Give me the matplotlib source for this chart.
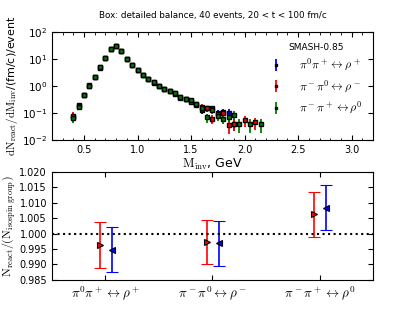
import numpy as np
import matplotlib
matplotlib.use("Agg")
import matplotlib.pyplot as plt
from matplotlib.ticker import MultipleLocator, LogLocator, NullLocator

plt.rcParams['mathtext.fontset'] = 'cm'
plt.rcParams['font.family'] = ['DejaVu Sans']

nan = np.nan
# ---- top panel data ----
m_inv = [0.40, 0.45, 0.50, 0.55, 0.60, 0.65, 0.70, 0.75, 0.80, 0.85, 0.90, 0.95,
         1.00, 1.05, 1.10, 1.15, 1.20, 1.25, 1.30, 1.35, 1.40, 1.45, 1.50, 1.55,
         1.60, 1.65, 1.70, 1.75, 1.80, 1.85, 1.90, 1.95, 2.00, 2.05, 2.10, 2.15]

rho_plus = [0.072, 0.20, 0.46, 1.00, 2.1, 4.8, 10.8, 23.5, 29.5, 19.6, 10.2, 6.0,
            3.85, 2.6, 1.8, 1.36, 1.0, 0.75, 0.67, 0.54, 0.39, 0.33, 0.29, 0.22,
            0.13, 0.15, 0.15, 0.10, 0.11, 0.105, 0.041, nan, nan, nan, nan, nan]
rho_plus_err = [0.027, 0.045, 0.068, 0.10, 0.145, 0.22, 0.33, 0.48, 0.54, 0.44, 0.32, 0.245,
                0.196, 0.16, 0.134, 0.117, 0.10, 0.087, 0.082, 0.073, 0.062, 0.057, 0.054, 0.047,
                0.036, 0.039, 0.039, 0.032, 0.033, 0.032, 0.020, nan, nan, nan, nan, nan]

rho_minus = [0.080, 0.18, 0.47, 1.10, 2.15, 5.0, 11.0, 24.5, 29.5, 19.8, 10.4, 6.1,
             3.9, 2.6, 1.8, 1.38, 1.0, 0.77, 0.66, 0.53, 0.37, 0.34, 0.25, 0.20,
             0.17, 0.15, 0.063, 0.09, 0.10, 0.036, 0.041, nan, 0.054, nan, 0.045, nan]
rho_minus_err = [0.028, 0.042, 0.069, 0.105, 0.147, 0.22, 0.33, 0.49, 0.54, 0.44, 0.32, 0.247,
                 0.197, 0.16, 0.134, 0.117, 0.10, 0.088, 0.081, 0.073, 0.061, 0.058, 0.050, 0.045,
                 0.041, 0.039, 0.025, 0.030, 0.032, 0.019, 0.020, nan, 0.023, nan, 0.021, nan]

rho_zero = [0.068, 0.17, 0.47, 1.02, 2.15, 4.9, 10.9, 24.0, 29.5, 19.8, 10.3, 6.1,
            3.9, 2.6, 1.8, 1.37, 1.0, 0.76, 0.67, 0.54, 0.38, 0.33, 0.30, 0.22,
            0.15, 0.069, 0.13, 0.08, 0.063, 0.073, 0.088, 0.039, nan, 0.039, nan, 0.039]
rho_zero_err = [0.026, 0.041, 0.069, 0.101, 0.147, 0.22, 0.33, 0.49, 0.54, 0.44, 0.32, 0.247,
                0.197, 0.16, 0.134, 0.117, 0.10, 0.087, 0.082, 0.073, 0.062, 0.057, 0.055, 0.047,
                0.039, 0.026, 0.036, 0.028, 0.025, 0.027, 0.030, 0.020, nan, 0.020, nan, 0.020]

labels = [r'$\pi^0\pi^+\leftrightarrow\rho^+$',
          r'$\pi^-\pi^0\leftrightarrow\rho^-$',
          r'$\pi^-\pi^+\leftrightarrow\rho^0$']
colors = ['blue', 'red', 'green']

# ---- bottom panel data ----
channel_idx = [0, 1, 2]
ratio_red = [0.9963, 0.9972, 1.0062]
ratio_red_err = [0.0073, 0.0072, 0.0072]
ratio_blue = [0.9948, 0.9969, 1.0084]
ratio_blue_err = [0.0073, 0.0073, 0.0073]

fig = plt.figure(figsize=(4.15, 3.12), dpi=100)
ax1 = fig.add_axes([0.125, 0.551, 0.774, 0.346])
ax2 = fig.add_axes([0.125, 0.103, 0.774, 0.346])

series = [(rho_plus, rho_plus_err), (rho_minus, rho_minus_err), (rho_zero, rho_zero_err)]
for (y, e), c, lab in zip(series, colors, labels):
    ax1.errorbar(m_inv, y, yerr=e, fmt='s', color=c, mfc=c, mec='k', ms=3,
                 mew=1.0, elinewidth=1.3, capsize=0, label=lab)

ax1.set_yscale('log')
ax1.set_xlim(0.2, 3.2)
ax1.set_ylim(1e-2, 1e2)
ax1.xaxis.set_major_locator(MultipleLocator(0.5))
ax1.xaxis.set_minor_locator(MultipleLocator(0.1))
ax1.yaxis.set_major_locator(LogLocator(base=10, numticks=10))
ax1.yaxis.set_minor_locator(NullLocator())
ax1.tick_params(which='both', direction='in', top=True, right=True)
ax1.tick_params(axis='y', labelsize=7.5)
ax1.tick_params(axis='x', labelsize=7)
ax1.tick_params(which='major', length=3.5)
ax1.tick_params(which='minor', length=1.8)
ax1.set_xlabel(r'$\mathrm{M_{inv}}$, GeV', fontsize=9, labelpad=1)
ax1.set_ylabel(r'$\mathrm{dN_{react}/dM_{inv}}$/(fm/c)/event', fontsize=8, labelpad=1)
ax1.set_title('Box: detailed balance, 40 events, 20 < t < 100 fm/c', fontsize=6.3, pad=10)
leg = ax1.legend(title='SMASH-0.85', loc='upper right', frameon=False, fontsize=8.5,
                 title_fontsize=6.5, labelspacing=0.45, handlelength=1.0,
                 borderaxespad=0.5, handletextpad=1.4, numpoints=1, markerscale=0.6)

ax2.errorbar([i - 0.05 for i in channel_idx], ratio_red, yerr=ratio_red_err, fmt='>',
             color='red', mfc='red', mec='k', ms=5, mew=0.8, ecolor='red',
             elinewidth=1.2, capsize=4, capthick=1.2)
ax2.errorbar([i + 0.06 for i in channel_idx], ratio_blue, yerr=ratio_blue_err, fmt='<',
             color='blue', mfc='blue', mec='k', ms=5, mew=0.8, ecolor='blue',
             elinewidth=1.2, capsize=4, capthick=1.2)
ax2.axhline(1.0, color='k', ls=':', lw=1.5)
ax2.set_xlim(-0.5, 2.5)
ax2.set_ylim(0.985, 1.020)
ax2.yaxis.set_major_locator(MultipleLocator(0.005))
ax2.yaxis.set_major_formatter(matplotlib.ticker.FormatStrFormatter('%.3f'))
ax2.set_xticks(channel_idx)
ax2.set_xticklabels(labels, fontsize=9.5)
ax2.tick_params(axis='y', labelsize=7)
ax2.tick_params(which='both', direction='in', top=True, right=True, length=3.5)
ax2.set_ylabel(r'$\mathrm{N_{react}/(N_{isospin\ group})}$', fontsize=8.5, labelpad=1)

fig.savefig('out.png', dpi=100)
